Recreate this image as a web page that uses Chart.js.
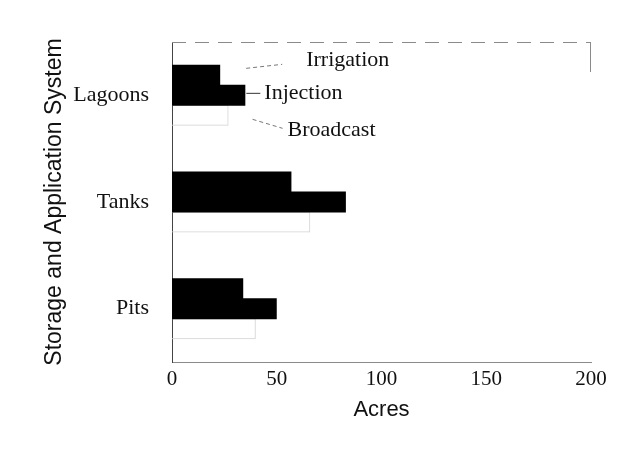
<!DOCTYPE html>
<html>
<head>
<meta charset="utf-8">
<script src="https://cdn.jsdelivr.net/npm/chart.js"></script>
<style>
  html, body { margin: 0; padding: 0; background: #fff; }
  canvas { display: block; }
</style>
</head>
<body>
<canvas id="chart" width="625" height="469"></canvas>
<script>
// storage systems and acres per application method
const categories = ['Lagoons', 'Tanks', 'Pits'];
const methods = ['Irrigation', 'Injection', 'Broadcast'];
const irrigation = [23, 57, 34];
const injection = [35, 83, 50];
const broadcast = [27, 66, 40];
const xTicks = [0, 50, 100, 150, 200];

const serif = "'Liberation Serif', 'Times New Roman', serif";
const sans = "'Liberation Sans', Arial, sans-serif";

// dashed frame on top/right, like the scanned original
const framePlugin = {
    id: 'frame',
    beforeDatasetsDraw(chart) {
        const { ctx, chartArea: a } = chart;
        ctx.save();
        ctx.strokeStyle = '#8a8a8a';
        ctx.lineWidth = 1;
        ctx.setLineDash([14, 9]);
        ctx.beginPath();
        ctx.moveTo(a.left, a.top + 0.5);
        ctx.lineTo(a.right, a.top + 0.5);
        ctx.stroke();
        ctx.setLineDash([]);
        ctx.beginPath();
        ctx.moveTo(a.right - 0.5, a.top);
        ctx.lineTo(a.right - 0.5, a.top + 30);
        ctx.stroke();
        ctx.restore();
    }
};

// labels for the three methods, pointing at the Lagoons bars
const calloutPlugin = {
    id: 'callouts',
    afterDatasetsDraw(chart) {
        const { ctx } = chart;
        const irr = chart.getDatasetMeta(0).data[0];
        const inj = chart.getDatasetMeta(1).data[0];
        const brd = chart.getDatasetMeta(2).data[0];
        ctx.save();
        ctx.strokeStyle = '#777';
        ctx.lineWidth = 1;

        ctx.setLineDash([4, 3]);
        ctx.beginPath();
        ctx.moveTo(irr.x + 26, irr.y - 7);
        ctx.lineTo(irr.x + 62, irr.y - 11);
        ctx.stroke();

        ctx.beginPath();
        ctx.moveTo(brd.x + 24, brd.y + 4);
        ctx.lineTo(brd.x + 54, brd.y + 13);
        ctx.stroke();

        ctx.setLineDash([]);
        ctx.strokeStyle = '#333';
        ctx.beginPath();
        ctx.moveTo(inj.x + 1, inj.y - 2);
        ctx.lineTo(inj.x + 15, inj.y - 2);
        ctx.stroke();

        ctx.fillStyle = '#111';
        ctx.font = '22px ' + serif;
        ctx.textAlign = 'left';
        ctx.textBaseline = 'middle';
        ctx.fillText(methods[0], irr.x + 86, irr.y - 15);
        ctx.fillText(methods[1], inj.x + 19, inj.y - 2);
        ctx.fillText(methods[2], brd.x + 59, brd.y + 15);
        ctx.restore();
    }
};

new Chart(document.getElementById('chart'), {
    type: 'bar',
    data: {
        labels: categories,
        datasets: [
            {
                label: methods[0],
                data: irrigation,
                backgroundColor: '#000',
                borderWidth: 0
            },
            {
                label: methods[1],
                data: injection,
                backgroundColor: '#000',
                borderWidth: 0
            },
            {
                label: methods[2],
                data: broadcast,
                backgroundColor: 'rgba(255,255,255,0)',
                borderColor: '#d4d4d4',
                borderWidth: 1
            }
        ]
    },
    options: {
        indexAxis: 'y',
        responsive: false,
        animation: false,
        // slight overlap so adjacent black bars merge without a seam
        categoryPercentage: 0.5625,
        barPercentage: 1.05,
        layout: {
            padding: { top: 42, right: 34, left: 0, bottom: 0 }
        },
        plugins: {
            legend: { display: false },
            tooltip: { enabled: false }
        },
        scales: {
            x: {
                min: 0,
                max: 200,
                afterFit(scale) { scale.height = 107; },
                afterBuildTicks(scale) {
                    scale.ticks = xTicks.map(v => ({ value: v }));
                },
                grid: { display: false, drawTicks: false },
                border: { display: true, color: '#8a8a8a', width: 1, dash: [16, 10] },
                ticks: {
                    color: '#111',
                    padding: 5,
                    font: { family: serif, size: 21 }
                },
                title: {
                    display: true,
                    text: 'Acres',
                    color: '#111',
                    padding: { top: 0, bottom: 46 },
                    font: { family: sans, size: 22 }
                }
            },
            y: {
                afterFit(scale) { scale.width = 172; },
                grid: { display: false, drawTicks: false },
                border: { display: true, color: '#444', width: 1 },
                ticks: {
                    color: '#111',
                    padding: 23,
                    font: { family: serif, size: 22 }
                },
                title: {
                    display: true,
                    text: 'Storage and Application System',
                    color: '#111',
                    padding: { top: 41, bottom: 0 },
                    font: { family: sans, size: 23 }
                }
            }
        }
    },
    plugins: [framePlugin, calloutPlugin]
});
</script>
</body>
</html>
